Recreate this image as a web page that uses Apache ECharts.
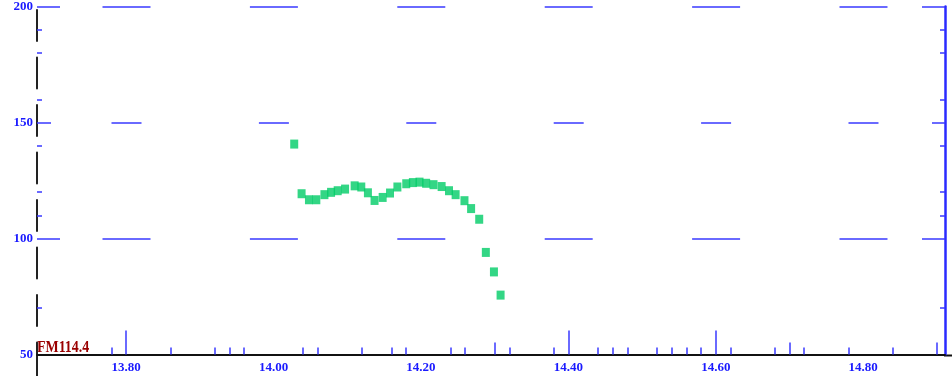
<!DOCTYPE html>
<html><head><meta charset="utf-8">
<script src="https://cdn.jsdelivr.net/npm/echarts@6/dist/echarts.min.js"></script>
<style>html,body{margin:0;padding:0;background:#fff}#c{width:952px;height:381px}</style>
</head><body><div id="c"></div>
<script>
// ---- data ----
const xValues = [14.028,14.038,14.048,14.058,14.069,14.078,14.087,14.097,14.110,14.119,14.128,14.137,14.148,14.158,14.168,14.180,14.189,14.198,14.207,14.217,14.228,14.238,14.247,14.259,14.268,14.279,14.288,14.299,14.308];
const yValues = [140.7,119.3,116.7,116.7,118.9,119.9,120.6,121.3,122.7,122.2,119.7,116.4,117.7,119.6,122.2,123.6,124.1,124.3,123.8,123.2,122.4,120.6,118.9,116.3,112.9,108.3,94.0,85.6,75.6];
const xLabelValues = [13.8,14.0,14.2,14.4,14.6,14.8];
const yLabelValues = [50,100,150,200];
const xSmallTicks = [13.78,13.86,13.92,13.94,13.96,14.04,14.06,14.12,14.16,14.18,14.24,14.26,14.32,14.38,14.44,14.46,14.48,14.52,14.54,14.56,14.58,14.62,14.68,14.72,14.78,14.84];
const xMediumTicks = [14.30,14.70,14.90];
const xMajorTicks = [13.80,14.40,14.60];
const yLongTicks = [200,100];
const yMidTicks = [150];
const yMinorTicks = [190,180,160,140,120,110,70];
const gridLongLines = [200,100];
const gridShortLines = [150];
const cornerText = 'FM114.4';
const X_MIN = 13.679, X_MAX = 14.911, Y_MIN = 50, Y_MAX = 200;

// ---- chart ----
const BLUE = '#3a3aff';
const labelFont = {fontFamily:'Liberation Serif', fontSize:13, fontWeight:'bold', color:'#1a1aff'};
function fmtX(v){return v.toFixed(2);}

function xAx(opts){
  return Object.assign({
    type:'value', min:X_MIN, max:X_MAX, position:'bottom',
    axisLine:{show:false, onZero:false}, splitLine:{show:false},
    axisLabel:{show:false}, axisTick:{show:false}
  }, opts);
}
function yAx(opts){
  return Object.assign({
    type:'value', min:Y_MIN, max:Y_MAX,
    axisLine:{show:false, onZero:false}, splitLine:{show:false},
    axisLabel:{show:false}, axisTick:{show:false}
  }, opts);
}
function tickAxisX(vals,len){
  return xAx({axisTick:{show:true, inside:true, length:len, customValues:vals, lineStyle:{color:BLUE,width:1.5}}});
}
function tickAxisY(vals,len,pos){
  return yAx({position:pos, axisTick:{show:true, inside:true, length:len, customValues:vals, lineStyle:{color:BLUE,width:1.5}}});
}

const xAxes = [
  xAx({
    axisLine:{show:true, onZero:false, lineStyle:{color:'#111', width:2}},
    axisLabel:Object.assign({show:true, margin:7, customValues:xLabelValues, formatter:fmtX}, labelFont)
  }),
  tickAxisX(xSmallTicks,7),
  tickAxisX(xMediumTicks,12),
  tickAxisX(xMajorTicks,24)
];
const yAxes = [
  yAx({position:'left',
    axisLine:{show:true, onZero:false, lineStyle:{color:'#222', width:2, type:[31,16.5], dashOffset:19}},
    axisLabel:Object.assign({show:true, margin:4, customValues:yLabelValues}, labelFont),
    axisTick:{show:true, inside:true, length:23, customValues:yLongTicks, lineStyle:{color:BLUE,width:1.5}}
  }),
  tickAxisY(yMidTicks,14,'left'),
  tickAxisY(yMinorTicks,5,'left'),
  yAx({position:'right',
    axisLine:{show:true, onZero:false, lineStyle:{color:'#2a2aff', width:2.5}},
    axisTick:{show:true, inside:true, length:23, customValues:yLongTicks, lineStyle:{color:BLUE,width:1.5}}
  }),
  tickAxisY(yMidTicks,13,'right'),
  tickAxisY(yMinorTicks,5,'right')
];

const markData = [];
gridLongLines.forEach(v=>markData.push({yAxis:v, lineStyle:{color:BLUE, width:1.6, type:[48,99.4], dashOffset:81.9}}));
gridShortLines.forEach(v=>markData.push({yAxis:v, lineStyle:{color:BLUE, width:1.6, type:[30,117.4], dashOffset:72.9}}));

const chart = echarts.init(document.getElementById('c'), null, {renderer:'canvas'});
chart.setOption({
  animation:false,
  backgroundColor:'#fff',
  grid:{left:37, right:7, top:4, bottom:26.5, containLabel:false},
  xAxis:xAxes,
  yAxis:yAxes,
  series:[{
    type:'scatter', xAxisIndex:0, yAxisIndex:0,
    symbol:'rect', symbolSize:[8,9],
    itemStyle:{color:'#00cc66'},
    data:xValues.map((x,i)=>[x,yValues[i]]),
    markLine:{silent:true, symbol:'none', label:{show:false}, data:markData},
    z:5
  }],
  graphic:[
    {type:'text', left:37, top:339, scaleX:0.82,
     style:{text:cornerText, fill:'#9a0000', font:'bold 17px "Liberation Serif"'}},
    {type:'line', shape:{x1:37, y1:355, x2:37, y2:376}, style:{stroke:'#222', lineWidth:2}},
    {type:'line', shape:{x1:944, y1:355.5, x2:952, y2:355.5}, style:{stroke:'#111', lineWidth:2}}
  ]
});
</script>
</body></html>
